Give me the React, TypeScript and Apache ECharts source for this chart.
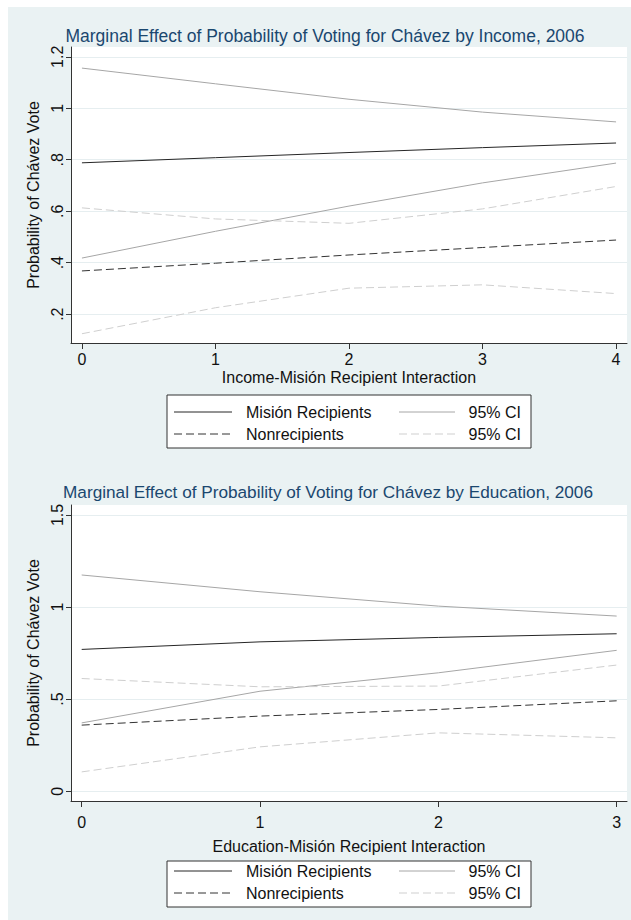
import React, { useEffect, useRef } from "react";
import * as echarts from "echarts";

// ---------- data ----------
const incomeX = [0, 1, 2, 3, 4];
const incMision = [0.788, 0.808, 0.828, 0.847, 0.865];
const incMisionUpper = [1.156, 1.095, 1.035, 0.985, 0.947];
const incMisionLower = [0.418, 0.522, 0.62, 0.71, 0.787];
const incNonrec = [0.368, 0.398, 0.43, 0.459, 0.488];
const incNonrecUpper = [0.613, 0.57, 0.553, 0.609, 0.696];
const incNonrecLower = [0.124, 0.225, 0.301, 0.314, 0.28];

const eduX = [0, 1, 2, 3];
const eduMision = [0.77, 0.811, 0.835, 0.855];
const eduMisionUpper = [1.174, 1.083, 1.005, 0.951];
const eduMisionLower = [0.371, 0.543, 0.643, 0.765];
const eduNonrec = [0.359, 0.408, 0.444, 0.491];
const eduNonrecUpper = [0.612, 0.567, 0.571, 0.685];
const eduNonrecLower = [0.105, 0.241, 0.317, 0.29];

const yTicksTop = [0.2, 0.4, 0.6, 0.8, 1, 1.2];
const yTicksBottom = [0, 0.5, 1, 1.5];

const titleTop = "Marginal Effect of Probability of Voting for Chávez by Income, 2006";
const titleBottom = "Marginal Effect of Probability of Voting for Chávez by Education, 2006";
const xNameTop = "Income-Misión Recipient Interaction";
const xNameBottom = "Education-Misión Recipient Interaction";
const yName = "Probability of Chávez Vote";
const legendNames = ["Misión Recipients", "95% CI", "Nonrecipients", "95% CI"];

// ---------- styles ----------
const FONT = '"Liberation Sans", Arial, Helvetica, sans-serif';
const FS = 16;
const BG = "#eaf2f3";
const GRIDLINE = "#e6eef0";
const AXIS = "#333333";
const C_MAIN = "#262626";
const C_CI = "#a6a6a6";
const C_DASH = "#333333";
const C_DASHCI = "#cfcfcf";
const DASH = [8, 4];

const fmt = (v: number) => {
  const s = String(Math.round(v * 100) / 100);
  return s.startsWith("0.") ? s.slice(1) : s;
};

const pairs = (xs: number[], ys: number[]) => xs.map((x, i) => [x, ys[i]]);

function mkSeries(gi: number, xs: number[], arrs: number[][]) {
  const styles = [
    { color: C_CI, type: "solid" },
    { color: C_CI, type: "solid" },
    { color: C_DASHCI, type: DASH },
    { color: C_DASHCI, type: DASH },
    { color: C_DASH, type: DASH },
    { color: C_MAIN, type: "solid" },
  ];
  return arrs.map((ys, i) => ({
    type: "line",
    xAxisIndex: gi,
    yAxisIndex: gi,
    data: pairs(xs, ys),
    showSymbol: false,
    symbol: "none",
    silent: true,
    lineStyle: { width: 1, color: styles[i].color, type: styles[i].type },
  }));
}

function xAxisCfg(gi: number, min: number, max: number, ticks: number[], name: string, margin: number, nameGap: number) {
  return {
    type: "value",
    gridIndex: gi,
    min,
    max,
    axisLine: { show: true, onZero: false, lineStyle: { color: AXIS, width: 1 } },
    axisTick: { show: true, length: 6, customValues: ticks, lineStyle: { color: AXIS, width: 1 } },
    axisLabel: { customValues: ticks, margin, fontSize: FS, color: "#111", fontFamily: FONT },
    splitLine: { show: false },
    name,
    nameLocation: "middle",
    nameGap,
    nameTextStyle: { fontSize: FS, color: "#111", fontFamily: FONT },
  };
}

function yAxisCfg(gi: number, min: number, max: number, ticks: number[]) {
  return {
    type: "value",
    gridIndex: gi,
    min,
    max,
    axisLine: { show: true, onZero: false, lineStyle: { color: AXIS, width: 1 } },
    axisTick: { show: true, length: 5, customValues: ticks, lineStyle: { color: AXIS, width: 1 } },
    axisLabel: {
      customValues: ticks,
      rotate: 90,
      margin: 6,
      fontSize: FS,
      color: "#111",
      fontFamily: FONT,
      formatter: (v: number) => fmt(v),
    },
    splitLine: { show: true, lineStyle: { color: GRIDLINE, width: 1 } },
    name: yName,
    nameLocation: "middle",
    nameGap: 28,
    nameRotate: 90,
    nameTextStyle: { fontSize: FS, color: "#111", fontFamily: FONT },
  };
}

function legendGraphic(top: number, height: number, row1: number, row2: number) {
  const left = 167;
  const right = 531;
  const els: any[] = [
    {
      type: "rect",
      shape: { x: left, y: top, width: right - left, height },
      style: { fill: "#ffffff", stroke: "#333333", lineWidth: 1 },
      silent: true,
    },
  ];
  const rows = [row1, row2];
  const lineStyles = [
    { stroke: C_MAIN, lineDash: null },
    { stroke: C_CI, lineDash: null },
    { stroke: C_DASH, lineDash: DASH },
    { stroke: C_DASHCI, lineDash: DASH },
  ];
  for (let r = 0; r < 2; r++) {
    const y = rows[r];
    const ls0 = lineStyles[r * 2];
    const ls1 = lineStyles[r * 2 + 1];
    els.push({
      type: "line",
      shape: { x1: 174, y1: y, x2: 232, y2: y },
      style: { stroke: ls0.stroke, lineWidth: 1, lineDash: ls0.lineDash },
      silent: true,
    });
    els.push({
      type: "text",
      x: 246,
      y,
      style: { text: legendNames[r * 2], font: `${FS}px ${FONT}`, fill: "#111", verticalAlign: "middle", align: "left" },
      silent: true,
    });
    els.push({
      type: "line",
      shape: { x1: 399, y1: y, x2: 455, y2: y },
      style: { stroke: ls1.stroke, lineWidth: 1, lineDash: ls1.lineDash },
      silent: true,
    });
    els.push({
      type: "text",
      x: 521,
      y,
      style: { text: legendNames[r * 2 + 1], font: `${FS}px ${FONT}`, fill: "#111", verticalAlign: "middle", align: "right" },
      silent: true,
    });
  }
  return els;
}

export default function App() {
  const ref = useRef<HTMLDivElement>(null);
  useEffect(() => {
    if (!ref.current) return;
    const chart = echarts.init(ref.current, undefined, { renderer: "svg" });
    const option: any = {
      animation: false,
      backgroundColor: BG,
      textStyle: { fontFamily: FONT },
      title: [
        {
          text: titleTop,
          left: 320,
          top: 22,
          textAlign: "center",
          textStyle: { fontSize: 17.5, fontWeight: "normal", color: "#1a476f", fontFamily: FONT },
        },
        {
          text: titleBottom,
          left: 323,
          top: 478,
          textAlign: "center",
          textStyle: { fontSize: 17.2, fontWeight: "normal", color: "#1a476f", fontFamily: FONT },
        },
      ],
      grid: [
        { left: 71, top: 47, width: 556, height: 296, show: true, backgroundColor: "#ffffff", borderWidth: 0 },
        { left: 71, top: 505, width: 556, height: 296, show: true, backgroundColor: "#ffffff", borderWidth: 0 },
      ],
      xAxis: [
        xAxisCfg(0, -0.082, 4.082, incomeX, xNameTop, 8, 26),
        xAxisCfg(1, -0.06, 3.058, eduX, xNameBottom, 13, 37),
      ],
      yAxis: [yAxisCfg(0, 0.088, 1.238, yTicksTop), yAxisCfg(1, -0.053, 1.554, yTicksBottom)],
      series: [
        ...mkSeries(0, incomeX, [incMisionUpper, incMisionLower, incNonrecUpper, incNonrecLower, incNonrec, incMision]),
        ...mkSeries(1, eduX, [eduMisionUpper, eduMisionLower, eduNonrecUpper, eduNonrecLower, eduNonrec, eduMision]),
      ],
      graphic: [
        {
          type: "rect",
          shape: { x: 0, y: 0, width: 8, height: 920 },
          style: { fill: "#ffffff" },
          silent: true,
        },
        {
          type: "rect",
          shape: { x: 0, y: 0, width: 631, height: 7 },
          style: { fill: "#ffffff" },
          silent: true,
        },
        ...legendGraphic(395, 53, 412, 434),
        ...legendGraphic(861, 46, 871, 893),
      ],
    };
    chart.setOption(option);
    return () => chart.dispose();
  }, []);
  return (
    <div
      ref={ref}
      style={{ position: "fixed", left: 0, top: 0, width: 631, height: 920 }}
    />
  );
}
